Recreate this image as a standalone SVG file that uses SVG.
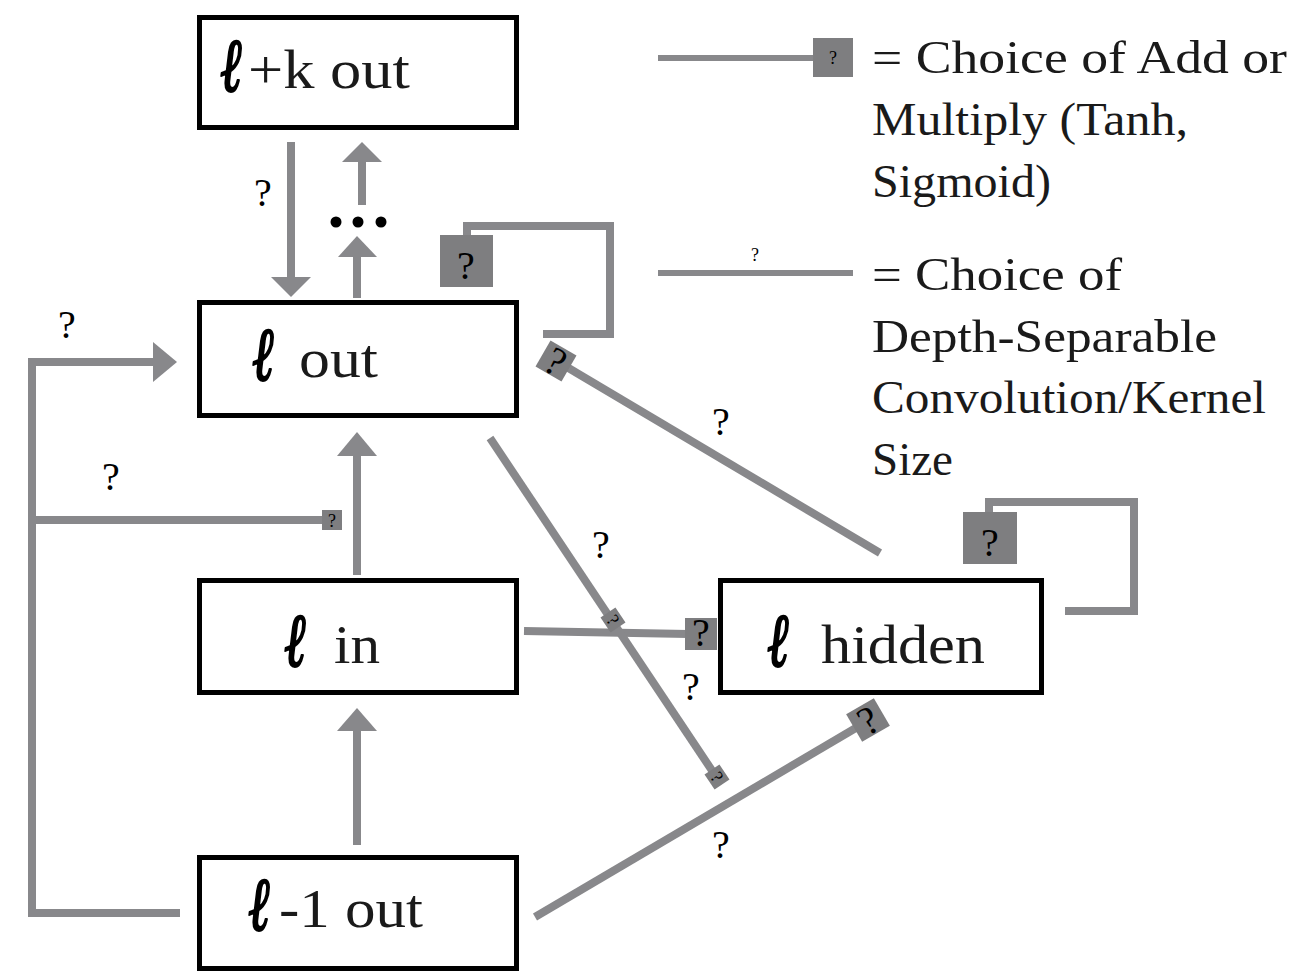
<svg xmlns="http://www.w3.org/2000/svg" width="1306" height="972" viewBox="0 0 1306 972">
<style>
.box{fill:#fff;stroke:#000;stroke-width:5}
.ln{stroke:#88888b;stroke-width:8;fill:none}
.hd{fill:#88888b}
.sq{fill:#7e7e80}
.ell{font-family:"DejaVu Serif",serif;font-weight:bold;font-style:italic;font-size:64px;fill:#000;stroke:#000;stroke-width:2;stroke-linejoin:round}
.bt{font-family:"Liberation Serif",serif;font-size:54px;fill:#1a1a1a}
.lg{font-family:"Liberation Serif",serif;font-size:46px;fill:#1a1a1a}
.q{font-family:"Liberation Serif",serif;font-size:40px;fill:#000;text-anchor:middle}
.qs{font-family:"Liberation Serif",serif;font-size:18px;fill:#000;text-anchor:middle}
</style>
<g id="connectors">
  <!-- l+k out -> l out -->
  <line class="ln" x1="291" y1="142" x2="291" y2="278"/>
  <polygon class="hd" points="271,277 311,277 291,297"/>
  <text class="q" x="263" y="206">?</text>
  <!-- l out -> dots -> l+k out -->
  <line class="ln" x1="357" y1="298" x2="357" y2="255"/>
  <polygon class="hd" points="338,257 377,257 357,236"/>
  <line class="ln" x1="362" y1="205" x2="362" y2="160"/>
  <polygon class="hd" points="342,162 382,162 362,142"/>
  <circle cx="336" cy="222" r="5.5" fill="#000"/>
  <circle cx="358" cy="222" r="5.5" fill="#000"/>
  <circle cx="381" cy="222" r="5.5" fill="#000"/>
  <!-- l in -> l out -->
  <line class="ln" x1="357" y1="575" x2="357" y2="454"/>
  <polygon class="hd" points="337,456 377,456 357,432"/>
  <!-- l-1 out -> l in -->
  <line class="ln" x1="357" y1="845" x2="357" y2="729"/>
  <polygon class="hd" points="337,731 377,731 357,708"/>
  <!-- left loop -->
  <polyline class="ln" points="180,913 32,913 32,362 155,362"/>
  <polygon class="hd" points="153,342 177,362 153,382"/>
  <text class="q" x="67" y="338">?</text>
  <line class="ln" x1="32" y1="520" x2="324" y2="520"/>
  <rect class="sq" x="322" y="510" width="20" height="20"/>
  <text class="qs" x="332" y="527">?</text>
  <text class="q" x="111" y="490">?</text>
  <!-- l out self loop -->
  <polyline class="ln" points="467,236 467,226 610,226 610,334 543,334"/>
  <rect class="sq" x="440" y="235" width="53" height="52"/>
  <text class="q" x="466" y="279">?</text>
  <!-- l hidden self loop -->
  <polyline class="ln" points="989,512 989,502 1134,502 1134,611 1065,611"/>
  <rect class="sq" x="963" y="512" width="54" height="52"/>
  <text class="q" x="990" y="556">?</text>
  <!-- l hidden -> l out -->
  <line class="ln" x1="880" y1="553" x2="560" y2="363"/>
  <g transform="translate(556,361) rotate(30)">
    <rect class="sq" x="-15" y="-15" width="30" height="30"/>
    <text class="q" x="0" y="14">?</text>
  </g>
  <text class="q" x="721" y="435">?</text>
  <!-- l in -> l hidden -->
  <line class="ln" x1="524" y1="631" x2="688" y2="634"/>
  <rect class="sq" x="685" y="618" width="32" height="32"/>
  <text class="q" x="701" y="646">?</text>
  <!-- l out diagonal -->
  <line class="ln" x1="490" y1="438" x2="719" y2="781"/>
  <g transform="translate(613,620) rotate(56)">
    <rect class="sq" x="-9" y="-9" width="18" height="18"/>
    <text class="qs" x="0" y="6">?</text>
  </g>
  <g transform="translate(717,777) rotate(56)">
    <rect class="sq" x="-9" y="-9" width="18" height="18"/>
    <text class="qs" x="0" y="6">?</text>
  </g>
  <text class="q" x="601" y="558">?</text>
  <text class="q" x="691" y="700">?</text>
  <!-- l-1 out -> l hidden -->
  <line class="ln" x1="535" y1="917" x2="866" y2="722"/>
  <g transform="translate(868,720) rotate(-30)">
    <rect class="sq" x="-16" y="-16" width="32" height="32"/>
    <text class="q" x="0" y="14">?</text>
  </g>
  <text class="q" x="721" y="858">?</text>
</g>
<g id="node-lk-out">
  <rect class="box" x="199.5" y="17.5" width="317" height="110"/>
  <text class="ell" transform="translate(221,91) scale(0.8,1.18)">ℓ</text>
  <text class="bt" x="248" y="88" textLength="162" lengthAdjust="spacingAndGlyphs">+k out</text>
</g>
<g id="node-l-out">
  <rect class="box" x="199.5" y="302.5" width="317" height="113"/>
  <text class="ell" transform="translate(253,380) scale(0.8,1.18)">ℓ</text>
  <text class="bt" x="299" y="377" textLength="79" lengthAdjust="spacingAndGlyphs">out</text>
</g>
<g id="node-l-in">
  <rect class="box" x="199.5" y="580.5" width="317" height="112"/>
  <text class="ell" transform="translate(285,666) scale(0.8,1.18)">ℓ</text>
  <text class="bt" x="334" y="663" textLength="46" lengthAdjust="spacingAndGlyphs">in</text>
</g>
<g id="node-l-hidden">
  <rect class="box" x="720.5" y="580.5" width="321" height="112"/>
  <text class="ell" transform="translate(768,666) scale(0.8,1.18)">ℓ</text>
  <text class="bt" x="821" y="663" textLength="164" lengthAdjust="spacingAndGlyphs">hidden</text>
</g>
<g id="node-l-1-out">
  <rect class="box" x="199.5" y="857.5" width="317" height="111"/>
  <text class="ell" transform="translate(249,930) scale(0.8,1.18)">ℓ</text>
  <text class="bt" x="279" y="927" textLength="144" lengthAdjust="spacingAndGlyphs">-1 out</text>
</g>
<g id="legend">
  <line x1="658" y1="58" x2="815" y2="58" stroke="#88888b" stroke-width="6"/>
  <rect class="sq" x="813" y="38" width="40" height="39"/>
  <text class="qs" x="833" y="64">?</text>
  <text class="lg" x="872" y="73" textLength="415" lengthAdjust="spacingAndGlyphs">= Choice of  Add or</text>
  <text class="lg" x="872" y="135" textLength="316" lengthAdjust="spacingAndGlyphs">Multiply (Tanh,</text>
  <text class="lg" x="872" y="197" textLength="179" lengthAdjust="spacingAndGlyphs">Sigmoid)</text>
  <line x1="658" y1="273" x2="853" y2="273" stroke="#88888b" stroke-width="6"/>
  <text class="qs" x="755" y="261">?</text>
  <text class="lg" x="872" y="290" textLength="250" lengthAdjust="spacingAndGlyphs">= Choice of</text>
  <text class="lg" x="872" y="352" textLength="345" lengthAdjust="spacingAndGlyphs">Depth-Separable</text>
  <text class="lg" x="872" y="413" textLength="394" lengthAdjust="spacingAndGlyphs">Convolution/Kernel</text>
  <text class="lg" x="872" y="475" textLength="81" lengthAdjust="spacingAndGlyphs">Size</text>
</g>
</svg>
